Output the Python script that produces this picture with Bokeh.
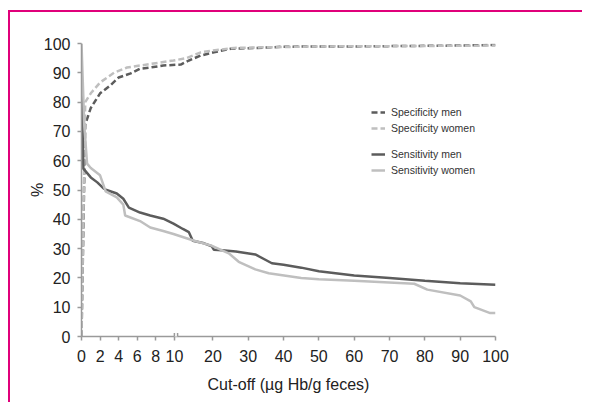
from bokeh.plotting import figure
from bokeh.models import (Range1d, FixedTicker, Legend, LegendItem, Arrow)
from bokeh.embed import file_html
from bokeh.resources import INLINE

# ---------------- data ----------------
spec_men_x = [0, 0.4, 1.0, 2.0, 3.1, 4.0, 5.3, 6.3, 7.4, 8.8, 10.9, 13.2, 16.6, 20.3, 25, 30, 35, 40, 50, 60, 70, 80, 90, 100]
spec_men_y = [0, 72.4, 78, 83, 85.7, 88.4, 89.8, 91.4, 91.8, 92.5, 92.8, 94.2, 95.9, 97, 98.2, 98.4, 98.6, 98.9, 99, 99, 99.1, 99.2, 99.3, 99.5]

spec_women_x = [0, 0.4, 1.0, 2.0, 3.5, 4.9, 7.4, 9.9, 12.5, 16.6, 20, 26, 35, 50, 70, 100]
spec_women_y = [0, 80, 83, 86.7, 90, 91.8, 93, 94.2, 95, 97, 97.6, 98.5, 98.7, 99, 99.1, 99.3]

sens_men_x = [0, 0.2, 1.0, 1.7, 2.4, 2.7, 3.8, 4.5, 5.1, 6.3, 7.4, 8.8, 9.9, 11.5, 13.2, 14.3, 17.5, 19.7, 20.3, 22.6, 26.5, 32, 36.7, 40, 45, 50, 60, 70, 80, 90, 100]
sens_men_y = [93, 57.3, 54.3, 52.6, 50.5, 50, 48.8, 47, 44, 42.3, 41.3, 40.2, 38.5, 36.7, 35.6, 32.7, 31.8, 30.8, 29.6, 29.4, 29, 28, 25, 24.5, 23.5, 22.3, 20.8, 20, 19, 18.2, 17.7]

sens_women_x = [0, 0.3, 0.6, 1.0, 2.0, 2.6, 3.8, 4.5, 4.7, 6.3, 7.4, 8.8, 9.9, 14.7, 19.6, 24.5, 27.3, 32, 35.8, 45, 50, 60, 77, 80.7, 90, 93, 94, 98.5, 100]
sens_women_y = [100, 72, 59, 57.5, 55, 49.5, 47.5, 45, 41.3, 39.4, 37.2, 36, 35, 32.7, 31, 28.4, 25.5, 22.9, 21.6, 20, 19.5, 19, 18, 16, 14, 12, 10, 8, 8]

x_ticks_left = [0, 2, 4, 6, 8, 10]
x_ticks_right = [20, 30, 40, 50, 60, 70, 80, 90, 100]
y_ticks = [0, 10, 20, 30, 40, 50, 60, 70, 80, 90, 100]

# ---------------- broken-axis transform ----------------
BREAK = 10
LEFT_SCALE = 2.63   # compression of the 0-10 segment
GAP = 0.9


def tx(x):
    if x <= BREAK:
        return x * LEFT_SCALE
    return BREAK * LEFT_SCALE + GAP + (x - BREAK)


def txs(xs):
    return [tx(v) for v in xs]


X_END = tx(100)

DARK = "#5c5c5c"
LIGHT = "#bfbfbf"
AXIS = "#9a9a9a"
FONT = "Liberation Sans"
FRAME = "#e0007a"

p = figure(width=582, height=402, output_backend="svg", toolbar_location=None,
           x_range=Range1d(0, X_END), y_range=Range1d(0, 100),
           min_border_left=81, min_border_right=87, min_border_top=43, min_border_bottom=66)
p.grid.visible = False
p.outline_line_color = None
p.background_fill_color = "white"
p.border_fill_alpha = 0
p.styles = {
    "background-color": "white",
    "background-image": f"linear-gradient({FRAME},{FRAME}), linear-gradient({FRAME},{FRAME})",
    "background-position": "8px 10px, 8px 10px",
    "background-size": "700px 2px, 2px 500px",
    "background-repeat": "no-repeat",
}

r_sm = p.line(txs(spec_men_x), spec_men_y, line_color=DARK, line_width=2.5, line_dash="6 3")
r_sw = p.line(txs(spec_women_x), spec_women_y, line_color=LIGHT, line_width=2.5, line_dash="6 3")
r_nm = p.line(txs(sens_men_x), sens_men_y, line_color=DARK, line_width=2.5)
r_nw = p.line(txs(sens_women_x), sens_women_y, line_color=LIGHT, line_width=2.5)

ticks = [tx(v) for v in x_ticks_left + x_ticks_right]
p.xaxis.ticker = FixedTicker(ticks=ticks)
p.xaxis.major_label_overrides = {tx(v): str(v) for v in x_ticks_left + x_ticks_right}
p.yaxis.ticker = FixedTicker(ticks=y_ticks)

for ax in (p.xaxis[0], p.yaxis[0]):
    ax.axis_line_color = AXIS
    ax.axis_line_width = 1.5
    ax.major_tick_line_color = AXIS
    ax.major_tick_line_width = 1.5
    ax.major_tick_out = 4
    ax.major_tick_in = 0
    ax.minor_tick_line_color = None
    ax.major_label_text_font = FONT
    ax.major_label_text_font_size = "16px"
    ax.major_label_text_color = "#222222"
    ax.axis_label_text_font = FONT
    ax.axis_label_text_font_size = "16px"
    ax.axis_label_text_font_style = "normal"
    ax.axis_label_text_color = "#222222"

p.xaxis.major_label_standoff = 9
p.yaxis.major_label_standoff = 7
p.xaxis.axis_label = "Cut-off (\u00b5g Hb/g feces)"
p.xaxis.axis_label_standoff = 11
p.yaxis.axis_label = "%"
p.yaxis.axis_label_standoff = -5

# axis break marker: white gap on the axis plus two short bars
xb0, xb1 = tx(BREAK), tx(BREAK) + GAP
p.add_layout(Arrow(x_start=xb0, x_end=xb1, y_start=0, y_end=0, start=None, end=None,
                   line_color="white", line_width=3))
for xb in (xb0, xb1):
    p.add_layout(Arrow(x_start=xb, x_end=xb, y_start=-1.2, y_end=1.2, start=None, end=None,
                       line_color=AXIS, line_width=1.5))

leg_kw = dict(border_line_color=None, background_fill_alpha=0, padding=0, margin=0,
              spacing=0, label_height=16, glyph_height=12, glyph_width=14,
              label_standoff=6, label_text_font=FONT, label_text_font_size="10.5px",
              label_text_color="#333333")
leg1 = Legend(items=[LegendItem(label="Specificity men", renderers=[r_sm]),
                     LegendItem(label="Specificity women", renderers=[r_sw])],
              location=(290, 200), **leg_kw)
leg2 = Legend(items=[LegendItem(label="Sensitivity men", renderers=[r_nm]),
                     LegendItem(label="Sensitivity women", renderers=[r_nw])],
              location=(290, 158), **leg_kw)
p.add_layout(leg1)
p.add_layout(leg2)

open("out.html", "w").write(file_html(p, INLINE))
